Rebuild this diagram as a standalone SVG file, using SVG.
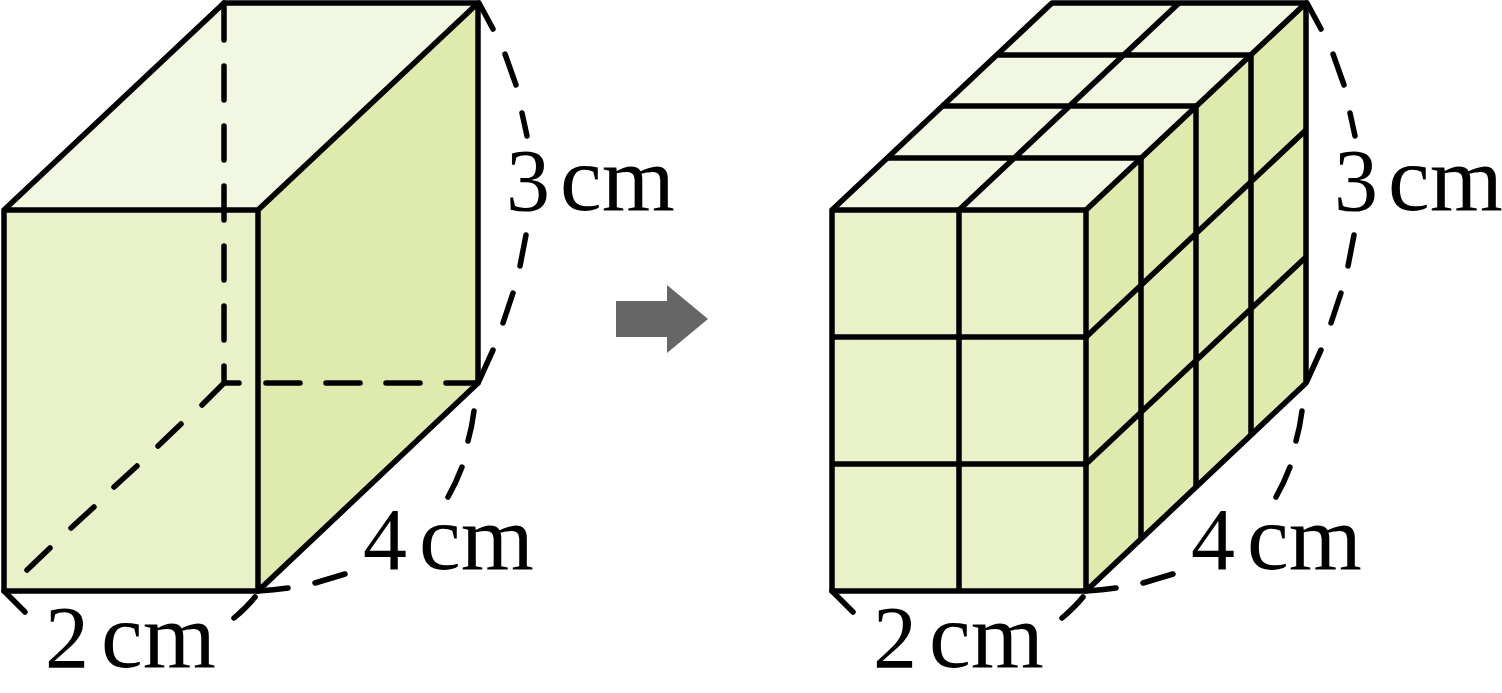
<svg xmlns="http://www.w3.org/2000/svg" width="1502" height="693" viewBox="0 0 1502 693">
<style>
.e{fill:none;stroke:#000;stroke-width:5.5;stroke-linecap:butt;stroke-linejoin:round}
.d{fill:none;stroke:#000;stroke-width:5.5;stroke-linecap:round;stroke-linejoin:round}
.top{fill:#f1f7e0}.front{fill:#e9f1c9}.side{fill:#dfeaad}
.t{font-family:"Liberation Serif",serif;font-size:88px;fill:#000}
.u{font-size:94px}
</style>
<defs>
<g id="arcs">
<path class="d" d="M479 3L493 29M505 54L516 85M522 113L527 136M526 235L520 266M513 293L503 323M493 350L479 381"/>
<path class="d" d="M258 591Q274 590 288 588M315 583L345 574M448 497Q456 483 462 467M468 441Q472 427 474 411"/>
<path class="d" d="M4 591L25 612M255 597Q247 607 234 618"/>
<text class="t" x="506" y="210">3<tspan class="u" x="560">cm</tspan></text>
<text class="t" x="363" y="569">4<tspan class="u" x="419">cm</tspan></text>
<text class="t" x="45" y="667">2<tspan class="u" x="101">cm</tspan></text>
</g>
</defs>
<g id="cuboid-left">
<polygon class="top" points="4,210 224,3 478,3 258,210"/>
<rect class="front" x="4" y="210" width="254" height="381"/>
<polygon class="side" points="258,210 478,3 478,383 258,591"/>
<path class="d" d="M224 3V40M224 66V100M224 126V160M224 186V220M224 246V280M224 306V340M224 366V383M224 383H239M266 383H300M326 383H360M386 383H420M446 383H478M224 383L202 405M181 424L158 446M137 466L114 487M94 507L71 528M50 548L27 570"/>
<path class="e" d="M4 210H258V591H4ZM4 210L224 3H478L258 210M478 3V383L258 591"/>
</g>
<g id="labels-left"><use href="#arcs"/></g>
<polygon id="arrow" fill="#666" points="616,301 667,301 667,285 708,319 667,353 667,337 616,337"/>
<g id="cuboid-right">
<polygon class="top" points="832,210 1052,3 1306,3 1086,210"/>
<rect class="front" x="832" y="210" width="254" height="381"/>
<polygon class="side" points="1086,210 1306,3 1306,383 1086,591"/>
<path class="e" d="M959 210V591M832 337H1086M832 464H1086M959 210L1179 3M886 158H1141M941 106H1196M996 55H1251M1141 158V539M1196 106V487M1251 55V435M1086 337L1306 130M1086 464L1306 257"/>
<path class="e" d="M832 210H1086V591H832ZM832 210L1052 3H1306L1086 210M1306 3V383L1086 591"/>
</g>
<g id="labels-right" transform="translate(828 0)"><use href="#arcs"/></g>
</svg>
